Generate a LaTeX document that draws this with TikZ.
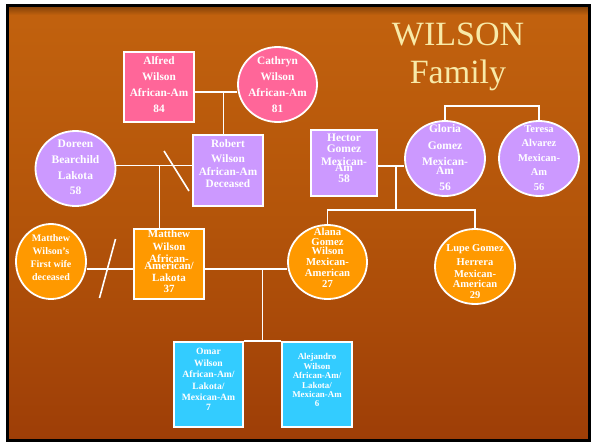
\documentclass[tikz,border=0pt]{standalone}
\usepackage{fontspec}
\setmainfont{Liberation Serif}
\usetikzlibrary{shapes.geometric}
\definecolor{pinkf}{HTML}{FF6699}
\definecolor{lavf}{HTML}{CC99FF}
\definecolor{orf}{HTML}{FF9900}
\definecolor{cyf}{HTML}{33CCFF}
\definecolor{bgtop}{HTML}{C2620E}
\definecolor{bgmid}{HTML}{B3540A}
\definecolor{bgbot}{HTML}{9E3E07}
\definecolor{titlec}{HTML}{F8EAA8}
\newcommand\mytight{\lineskiplimit=-100pt\lineskip=0pt}
\begin{document}
\begin{tikzpicture}[x=1pt,y=-1pt,
  box/.style={rectangle, draw=white, line width=1.8pt, inner sep=0pt},
  person/.style={ellipse, draw=white, line width=1.8pt, inner sep=0pt},
  txt/.style={text=white, align=center, inner sep=0pt},
  conn/.style={draw=white, line width=1.6pt},
  titletxt/.style={text=titlec, font=\fontsize{34}{40}\selectfont, inner sep=0pt, anchor=base}]
\useasboundingbox (0,0) rectangle (594,445);
\fill[white] (0,0) rectangle (594,445);
\shade[top color=bgtop, bottom color=bgbot, middle color=bgmid] (7.5,5.5) rectangle (589.5,440.5);
\shade[top color=black!50!bgtop, bottom color=bgtop, opacity=0.7] (7.5,5.5) rectangle (589.5,15);
\draw[black, line width=3pt] (7.5,5.5) rectangle (589.5,440.5);

\node[titletxt] (t1) at (458,45) {WILSON};
\node[titletxt] (t2) at (458,83) {Family};

\node[box, fill=pinkf, minimum width=70pt, minimum height=70pt,
  label={[txt, font=\fontsize{11.3}{16}\selectfont\bfseries\mytight, yshift=2.6pt]center:{Alfred\\Wilson\\African-Am\\84}}] (alfred) at (159,87) {};
\node[person, fill=pinkf, minimum width=79pt, minimum height=75pt,
  label={[txt, font=\fontsize{11.3}{16}\selectfont\bfseries\mytight]center:{Cathryn\\Wilson\\African-Am\\81}}] (cathryn) at (277.5,84.5) {};
\node[person, fill=lavf, minimum width=80pt, minimum height=75pt,
  label={[txt, font=\fontsize{11.5}{15.7}\selectfont\bfseries\mytight, yshift=1pt]center:{Doreen\\Bearchild\\Lakota\\58}}] (doreen) at (75.5,168.5) {};
\node[box, fill=lavf, minimum width=70pt, minimum height=71pt,
  label={[txt, font=\fontsize{11.3}{12}\selectfont\bfseries\mytight, yshift=6.5pt]center:{Robert\\[3pt]Wilson\\[1pt]African-Am\\Deceased}}] (robert) at (228,170.5) {};
\node[box, fill=lavf, minimum width=66pt, minimum height=66pt,
  label={[txt, font=\fontsize{11.5}{6}\selectfont\bfseries\mytight, yshift=4.5pt]center:{Hector\\[5pt]Gomez\\[7pt]Mexican-\\Am\\[5pt]58}}] (hector) at (344,163) {};
\node[person, fill=lavf, minimum width=80pt, minimum height=75pt,
  label={[txt, font=\fontsize{11.5}{9}\selectfont\bfseries\mytight, yshift=0.5pt]center:{Gloria\\[8pt]Gomez\\[7pt]Mexican-\\Am\\[7pt]56}}] (gloria) at (445,158.5) {};
\node[person, fill=lavf, minimum width=80pt, minimum height=75pt,
  label={[txt, font=\fontsize{10.5}{14.5}\selectfont\bfseries\mytight, yshift=0.5pt]center:{Teresa\\Alvarez\\Mexican-\\Am\\56}}] (teresa) at (539,158.5) {};
\node[person, fill=orf, minimum width=70pt, minimum height=75pt,
  label={[txt, font=\fontsize{10}{13}\selectfont\bfseries\mytight, yshift=4pt]center:{Matthew\\Wilson's\\First wife\\deceased}}] (wife) at (51,261.5) {};
\node[box, fill=orf, minimum width=70pt, minimum height=70pt,
  label={[txt, font=\fontsize{11}{7}\selectfont\bfseries\mytight, yshift=2.5pt]center:{Matthew\\[6pt]Wilson\\[5pt]African-\\American/\\[5pt]Lakota\\[4pt]37}}] (matthew) at (169,264) {};
\node[person, fill=orf, minimum width=79pt, minimum height=74pt,
  label={[txt, font=\fontsize{10.7}{10}\selectfont\bfseries\mytight, yshift=4pt]center:{Alana\\Gomez\\[-1pt]Wilson\\[1pt]Mexican-\\[1pt]American\\[1pt]27}}] (alana) at (327.5,262) {};
\node[person, fill=orf, minimum width=80pt, minimum height=75pt,
  label={[txt, font=\fontsize{10.5}{10}\selectfont\bfseries\mytight, yshift=-5pt]center:{Lupe Gomez\\[4pt]Herrera\\[2pt]Mexican-\\American\\[1pt]29}}] (lupe) at (475,266.5) {};
\node[box, fill=cyf, minimum width=69pt, minimum height=85pt,
  label={[txt, font=\fontsize{9.6}{11.5}\selectfont\bfseries\mytight, yshift=5pt]center:{Omar\\Wilson\\African-Am/\\Lakota/\\Mexican-Am\\[-1.5pt]7}}] (omar) at (208.5,384.5) {};
\node[box, fill=cyf, minimum width=70pt, minimum height=85pt,
  label={[txt, font=\fontsize{8.9}{9.2}\selectfont\bfseries\mytight, yshift=4.5pt]center:{Alejandro\\[1pt]Wilson\\African-Am/\\Lakota/\\Mexican-Am\\6}}] (alejandro) at (317,384.5) {};

% connectors
\coordinate (j1) at (223.5,91.7);
\draw[conn] (alfred.east |- j1) -- (cathryn.west |- j1);
\draw[conn] (j1) -- (robert.north -| j1);

\coordinate (j2) at (159.5,165.5);
\draw[conn] (doreen.east |- j2) -- (robert.west |- j2);
\draw[conn] (j2) -- (matthew.north -| j2);
\coordinate (s1) at (164,151);
\coordinate (s2) at (189,191);
\draw[conn] (s1) -- (s2);

\coordinate (j3) at (396,166);
\coordinate (j3b) at (396,210);
\draw[conn] (hector.east |- j3) -- (gloria.west |- j3);
\draw[conn] (j3) -- (j3b);
\draw[conn] (alana.north) -- (alana.north |- j3b) -- (lupe.north |- j3b) -- (lupe.north);

\coordinate (j5) at (490,106);
\draw[conn] (gloria.north) -- (gloria.north |- j5) -- (teresa.north |- j5) -- (teresa.north);

\coordinate (j4) at (262.5,269);
\draw[conn] (matthew.east |- j4) -- (alana.west |- j4);
\draw[conn] (j4) -- (j4 |- omar.north);
\draw[conn] (omar.north east) -- (alejandro.north west);

\draw[conn] (wife.east |- j4) -- (matthew.west |- j4);
\coordinate (s3) at (115.5,239);
\coordinate (s4) at (99.5,298);
\draw[conn] (s3) -- (s4);
\end{tikzpicture}
\end{document}
